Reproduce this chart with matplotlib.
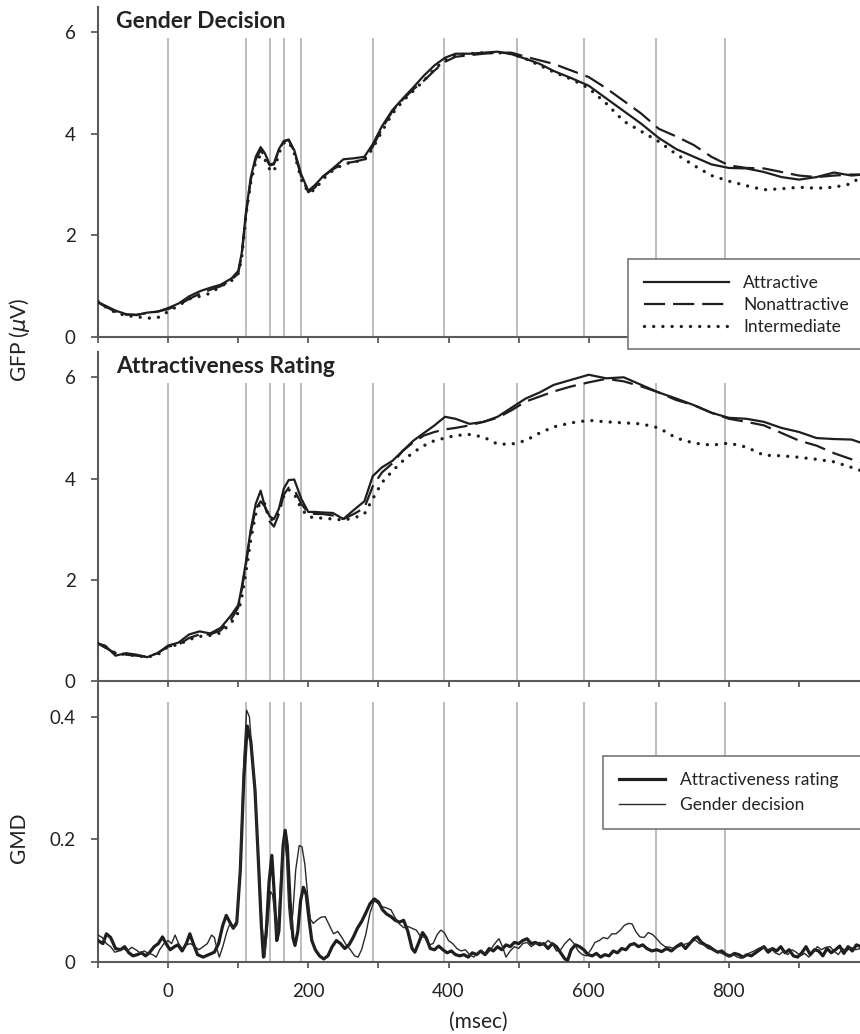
import matplotlib
matplotlib.use("Agg")
import matplotlib.pyplot as plt
from matplotlib.lines import Line2D
from matplotlib.patches import Rectangle
from matplotlib.ticker import MultipleLocator, FixedLocator, FuncFormatter

plt.rcParams['font.family'] = ['Lato', 'DejaVu Sans']
plt.rcParams['mathtext.fontset'] = 'dejavusans'

# ---------------- data ----------------
events = [0, 111, 145, 166, 190, 292, 394, 497, 593, 696, 794]

t = [-100, -90, -75, -60, -45, -30, -15, 0, 15, 30, 45, 60, 75, 90, 100, 105, 111, 118,
     125, 132, 138, 145, 151, 158, 165, 172, 180, 190, 200, 210, 220, 235, 250, 265, 280,
     292, 305, 320, 335, 350, 365, 380, 395, 410, 430, 450, 470, 490, 510, 530, 550, 575,
     600, 625, 650, 675, 700, 725, 750, 775, 800, 825, 850, 875, 900, 925, 950, 975, 990]

gd_attractive = [0.69, 0.62, 0.52, 0.45, 0.43, 0.48, 0.50, 0.57, 0.66, 0.80, 0.90, 0.97, 1.03,
                 1.15, 1.30, 1.65, 2.45, 3.15, 3.55, 3.74, 3.62, 3.40, 3.42, 3.70, 3.86, 3.89,
                 3.68, 3.20, 2.88, 3.00, 3.15, 3.32, 3.50, 3.52, 3.55, 3.80, 4.15, 4.47, 4.70,
                 4.92, 5.15, 5.35, 5.50, 5.58, 5.58, 5.60, 5.62, 5.57, 5.48, 5.38, 5.24, 5.10,
                 4.95, 4.70, 4.45, 4.20, 3.92, 3.70, 3.55, 3.40, 3.33, 3.32, 3.25, 3.15, 3.10,
                 3.15, 3.24, 3.18, 3.20]
gd_nonattractive = [0.68, 0.60, 0.50, 0.44, 0.44, 0.47, 0.50, 0.55, 0.63, 0.75, 0.85, 0.93, 1.00,
                    1.12, 1.25, 1.60, 2.40, 3.10, 3.50, 3.68, 3.55, 3.38, 3.40, 3.68, 3.85, 3.88,
                    3.65, 3.15, 2.85, 2.95, 3.15, 3.30, 3.42, 3.45, 3.50, 3.75, 4.10, 4.45, 4.68,
                    4.88, 5.05, 5.25, 5.42, 5.52, 5.55, 5.58, 5.60, 5.60, 5.52, 5.45, 5.38, 5.25,
                    5.12, 4.90, 4.65, 4.40, 4.10, 3.95, 3.78, 3.55, 3.38, 3.33, 3.32, 3.25, 3.18,
                    3.15, 3.18, 3.20, 3.20]
gd_intermediate = [0.70, 0.60, 0.48, 0.42, 0.40, 0.37, 0.38, 0.50, 0.62, 0.75, 0.80, 0.86, 1.00,
                   1.10, 1.25, 1.55, 2.40, 3.05, 3.45, 3.58, 3.50, 3.30, 3.25, 3.62, 3.82, 3.85,
                   3.62, 3.10, 2.85, 2.90, 3.10, 3.28, 3.40, 3.45, 3.48, 3.72, 4.05, 4.40, 4.65,
                   4.85, 5.05, 5.28, 5.45, 5.55, 5.58, 5.60, 5.60, 5.58, 5.48, 5.35, 5.22, 5.08,
                   4.90, 4.60, 4.25, 4.05, 3.85, 3.60, 3.38, 3.18, 3.07, 2.98, 2.90, 2.92, 2.95,
                   2.93, 2.95, 3.02, 3.18]

ar_attractive = [0.74, 0.70, 0.50, 0.55, 0.52, 0.47, 0.55, 0.70, 0.76, 0.92, 0.98, 0.94, 1.05,
                 1.30, 1.50, 1.85, 2.35, 3.00, 3.50, 3.76, 3.45, 3.25, 3.20, 3.40, 3.80, 3.97,
                 3.98, 3.60, 3.34, 3.34, 3.33, 3.32, 3.20, 3.38, 3.55, 4.05, 4.22, 4.35, 4.55,
                 4.75, 4.90, 5.05, 5.22, 5.18, 5.08, 5.12, 5.22, 5.40, 5.58, 5.70, 5.85, 5.95,
                 6.05, 5.98, 6.00, 5.85, 5.70, 5.58, 5.45, 5.30, 5.20, 5.18, 5.12, 5.00, 4.92,
                 4.80, 4.78, 4.77, 4.70]
ar_nonattractive = [0.74, 0.66, 0.55, 0.52, 0.50, 0.48, 0.55, 0.68, 0.72, 0.85, 0.92, 0.92, 1.00,
                    1.22, 1.45, 1.80, 2.30, 2.95, 3.40, 3.55, 3.45, 3.15, 3.05, 3.30, 3.68, 3.82,
                    3.78, 3.50, 3.32, 3.30, 3.30, 3.27, 3.20, 3.30, 3.42, 3.85, 4.12, 4.30, 4.55,
                    4.72, 4.85, 4.92, 4.97, 5.00, 5.05, 5.12, 5.20, 5.35, 5.52, 5.62, 5.72, 5.82,
                    5.90, 5.97, 5.92, 5.82, 5.70, 5.55, 5.45, 5.30, 5.18, 5.12, 5.05, 4.90, 4.75,
                    4.65, 4.50, 4.38, 4.32]
ar_intermediate = [0.74, 0.68, 0.55, 0.52, 0.50, 0.47, 0.52, 0.68, 0.72, 0.82, 0.88, 0.90, 0.95,
                   1.15, 1.35, 1.65, 2.15, 2.80, 3.30, 3.55, 3.50, 3.20, 3.18, 3.35, 3.65, 3.78,
                   3.70, 3.40, 3.25, 3.22, 3.22, 3.20, 3.18, 3.22, 3.30, 3.60, 3.92, 4.15, 4.35,
                   4.52, 4.65, 4.75, 4.80, 4.85, 4.87, 4.82, 4.68, 4.68, 4.75, 4.90, 5.02, 5.10,
                   5.15, 5.12, 5.10, 5.08, 5.00, 4.80, 4.70, 4.66, 4.70, 4.62, 4.46, 4.45, 4.42,
                   4.38, 4.33, 4.22, 4.15]

gmd_rating_t = [-100, -93, -88, -82, -75, -68, -62, -56, -50, -44, -38, -32, -26, -20, -14, -8, -3,
                3, 9, 14, 20, 26, 31, 36, 42, 50, 58, 66, 72, 78, 83, 88, 93, 98, 103, 108, 113,
                118, 124, 129, 133, 136, 140, 144, 148, 151, 155, 158, 161, 164, 167, 170, 174,
                178, 181, 185, 189, 193, 197, 201, 205, 210, 216, 222, 228, 234, 240, 246, 252,
                258, 264, 270, 276, 282, 288, 294, 300, 306, 312, 318, 324, 330, 336, 342, 348,
                352, 357, 363, 368, 374, 380, 386, 392, 398, 404, 410, 416, 422, 428, 434, 440,
                446, 452, 458, 464, 470, 476, 482, 488, 494, 500, 506, 512, 518, 524, 530, 536,
                542, 548, 554, 560, 566, 570, 575, 581, 587, 593, 599, 605, 611, 617, 623, 629,
                635, 641, 647, 653, 659, 665, 671, 677, 683, 690, 697, 704, 711, 718, 725, 732,
                738, 744, 750, 755, 760, 766, 772, 778, 784, 790, 796, 802, 808, 814, 820, 826,
                832, 838, 844, 850, 856, 862, 868, 874, 880, 886, 892, 898, 904, 910, 916, 922,
                928, 934, 940, 946, 952, 958, 964, 970, 976, 982, 988]
gmd_rating = [0.035, 0.030, 0.046, 0.040, 0.022, 0.020, 0.025, 0.015, 0.010, 0.012, 0.015, 0.010,
              0.016, 0.025, 0.030, 0.041, 0.030, 0.020, 0.025, 0.028, 0.018, 0.030, 0.046, 0.030,
              0.012, 0.008, 0.012, 0.016, 0.030, 0.060, 0.076, 0.065, 0.055, 0.065, 0.150, 0.300,
              0.385, 0.360, 0.280, 0.160, 0.060, 0.008, 0.050, 0.130, 0.174, 0.120, 0.035, 0.050,
              0.120, 0.190, 0.215, 0.190, 0.100, 0.040, 0.027, 0.050, 0.100, 0.122, 0.110, 0.070,
              0.035, 0.020, 0.010, 0.005, 0.010, 0.025, 0.035, 0.030, 0.022, 0.028, 0.040, 0.055,
              0.066, 0.080, 0.095, 0.103, 0.098, 0.085, 0.078, 0.074, 0.068, 0.065, 0.068, 0.050,
              0.022, 0.016, 0.030, 0.048, 0.040, 0.022, 0.020, 0.026, 0.020, 0.015, 0.018, 0.012,
              0.010, 0.012, 0.008, 0.015, 0.012, 0.018, 0.012, 0.022, 0.018, 0.025, 0.020, 0.028,
              0.025, 0.032, 0.030, 0.035, 0.038, 0.030, 0.032, 0.028, 0.030, 0.022, 0.030, 0.025,
              0.015, 0.005, 0.003, 0.020, 0.028, 0.025, 0.020, 0.012, 0.010, 0.014, 0.008, 0.012,
              0.010, 0.018, 0.015, 0.022, 0.020, 0.028, 0.030, 0.025, 0.028, 0.022, 0.018, 0.020,
              0.017, 0.022, 0.018, 0.025, 0.030, 0.022, 0.030, 0.038, 0.041, 0.033, 0.028, 0.025,
              0.020, 0.016, 0.018, 0.012, 0.010, 0.014, 0.012, 0.008, 0.012, 0.010, 0.015, 0.020,
              0.025, 0.016, 0.022, 0.018, 0.025, 0.015, 0.020, 0.010, 0.008, 0.015, 0.025, 0.012,
              0.020, 0.018, 0.010, 0.022, 0.015, 0.020, 0.026, 0.014, 0.025, 0.018, 0.028, 0.025]

gmd_gender_t = [-100, -94, -88, -82, -76, -70, -64, -58, -52, -46, -40, -34, -28, -22, -17, -12, -6,
                0, 5, 10, 15, 20, 26, 32, 38, 44, 50, 56, 62, 66, 70, 73, 78, 84, 88, 93, 98, 103,
                108, 112, 116, 120, 124, 129, 134, 138, 142, 146, 149, 152, 155, 158, 162, 166,
                169, 172, 175, 178, 182, 187, 191, 195, 199, 203, 207, 212, 218, 224, 230, 236,
                242, 248, 254, 260, 266, 271, 276, 282, 288, 294, 300, 306, 312, 318, 324, 330,
                336, 342, 348, 354, 360, 366, 372, 378, 384, 389, 394, 400, 406, 412, 418, 424,
                430, 436, 442, 448, 454, 460, 466, 472, 477, 482, 488, 494, 500, 506, 512, 518,
                524, 530, 536, 542, 548, 554, 560, 566, 573, 579, 585, 591, 597, 603, 609, 615,
                621, 627, 633, 639, 645, 651, 657, 662, 667, 673, 679, 685, 691, 697, 703, 709,
                716, 722, 728, 734, 740, 746, 752, 758, 764, 770, 776, 782, 788, 794, 800, 806,
                812, 818, 824, 830, 836, 842, 848, 854, 860, 866, 872, 878, 884, 890, 896, 902,
                908, 914, 920, 926, 932, 938, 944, 950, 956, 962, 968, 974, 980, 988]
gmd_gender = [0.044, 0.040, 0.030, 0.025, 0.016, 0.018, 0.022, 0.018, 0.024, 0.020, 0.015, 0.018,
              0.014, 0.012, 0.008, 0.020, 0.030, 0.035, 0.030, 0.044, 0.030, 0.022, 0.028, 0.030,
              0.025, 0.020, 0.025, 0.030, 0.044, 0.040, 0.020, 0.008, 0.025, 0.050, 0.062, 0.055,
              0.060, 0.160, 0.330, 0.411, 0.400, 0.340, 0.286, 0.170, 0.060, 0.008, 0.060, 0.115,
              0.110, 0.080, 0.046, 0.080, 0.160, 0.204, 0.170, 0.090, 0.054, 0.080, 0.150, 0.190,
              0.188, 0.160, 0.110, 0.070, 0.063, 0.068, 0.073, 0.074, 0.060, 0.046, 0.050, 0.040,
              0.028, 0.020, 0.010, 0.008, 0.020, 0.045, 0.080, 0.100, 0.095, 0.090, 0.088, 0.085,
              0.072, 0.062, 0.056, 0.058, 0.055, 0.052, 0.042, 0.040, 0.028, 0.030, 0.045, 0.052,
              0.048, 0.035, 0.030, 0.022, 0.018, 0.020, 0.012, 0.008, 0.015, 0.018, 0.012, 0.020,
              0.030, 0.038, 0.025, 0.008, 0.018, 0.025, 0.022, 0.030, 0.032, 0.025, 0.030, 0.032,
              0.028, 0.035, 0.030, 0.018, 0.020, 0.030, 0.038, 0.030, 0.018, 0.012, 0.010, 0.020,
              0.032, 0.035, 0.040, 0.038, 0.046, 0.046, 0.052, 0.060, 0.063, 0.062, 0.050, 0.041,
              0.040, 0.048, 0.045, 0.038, 0.030, 0.025, 0.024, 0.022, 0.025, 0.028, 0.030, 0.032,
              0.036, 0.030, 0.028, 0.022, 0.020, 0.018, 0.015, 0.012, 0.008, 0.012, 0.008, 0.006,
              0.012, 0.015, 0.018, 0.022, 0.025, 0.020, 0.022, 0.015, 0.012, 0.018, 0.012, 0.020,
              0.016, 0.010, 0.014, 0.008, 0.015, 0.025, 0.020, 0.024, 0.025, 0.018, 0.012, 0.022,
              0.018, 0.024, 0.020, 0.022]

gfp_labels = ["Attractive", "Nonattractive", "Intermediate"]
gmd_labels = ["Attractiveness rating", "Gender decision"]
panel_titles = ["Gender Decision", "Attractiveness Rating"]

# ---------------- styling ----------------
W, H = 860, 1034
fig = plt.figure(figsize=(W / 100, H / 100), dpi=100)

def fy(py):
    return 1 - py / H

LEFT = 98 / W
XLIM = (-100, 987)
spine_c = '#5a5a5a'
text_c = '#222222'
line_c = '#1e1e1e'
vline_c = '#b8b8b8'

axes_px = [(7, 337), (352, 681), (685, 962)]
axs = []
for top, bot in axes_px:
    ax = fig.add_axes([LEFT, fy(bot), 1 - LEFT, (bot - top) / H])
    ax.set_facecolor('none')
    for s in ['top', 'right']:
        ax.spines[s].set_visible(False)
    for s in ['left', 'bottom']:
        ax.spines[s].set_color(spine_c)
        ax.spines[s].set_linewidth(1.5)
    ax.set_xlim(*XLIM)
    ax.xaxis.set_major_locator(MultipleLocator(200))
    ax.xaxis.set_minor_locator(MultipleLocator(100))
    ax.tick_params(axis='x', which='both', direction='out', length=4, width=1.3,
                   color=spine_c, labelsize=13.5, labelcolor=text_c, pad=11)
    ax.tick_params(axis='y', which='both', direction='out', length=5, width=1.3,
                   color=spine_c, labelsize=13.5, labelcolor=text_c, pad=11)
    axs.append(ax)

dash_style = (0, (9.5, 3.6))
dot_style = (0, (0.01, 2.75))

gfp_series = [
    (gd_attractive, gd_nonattractive, gd_intermediate),
    (ar_attractive, ar_nonattractive, ar_intermediate),
]

for i, ax in enumerate(axs[:2]):
    ax.vlines(events, 0, 5.88, colors=vline_c, linewidth=1.3, zorder=1)
    a, n, m = gfp_series[i]
    ax.plot(t, a, color=line_c, lw=1.6, zorder=3)
    ax.plot(t, n, color=line_c, lw=1.6, linestyle=dash_style, zorder=3)
    ax.plot(t, m, color=line_c, lw=2.4, linestyle=dot_style, dash_capstyle='round', zorder=3)
    ax.set_ylim(0, 6.5)
    ax.yaxis.set_major_locator(FixedLocator([0, 2, 4, 6]))
    ax.tick_params(axis='x', labelbottom=False)
    ax.text(18 / 762, 0.936, panel_titles[i], transform=ax.transAxes, fontsize=16.5,
            fontweight='bold', color=text_c, va='baseline', ha='left')

ax = axs[2]
ax.vlines(events, 0, 0.424, colors=vline_c, linewidth=1.3, zorder=1)
ax.plot(gmd_rating_t, gmd_rating, color=line_c, lw=2.3, zorder=3)
ax.plot(gmd_gender_t, gmd_gender, color='#2a2a2a', lw=1.0, zorder=3)
ax.set_ylim(0, 0.452)
ax.yaxis.set_major_locator(FixedLocator([0, 0.2, 0.4]))
ax.yaxis.set_major_formatter(FuncFormatter(lambda v, p: '0' if v == 0 else f'{v:.1f}'))

# legend boxes: they run past the right edge of the figure, as in the reference
for (bx, btop, bbot) in [(628, 259, 349), (603, 756, 829)]:
    fig.add_artist(Rectangle((bx / W, fy(bbot)), 1.1 - bx / W, (bbot - btop) / H,
                             transform=fig.transFigure, facecolor='white',
                             edgecolor='#777777', linewidth=1.2, zorder=4))

h1 = [Line2D([], [], color=line_c, lw=1.6),
      Line2D([], [], color=line_c, lw=1.6, linestyle=dash_style),
      Line2D([], [], color=line_c, lw=2.4, linestyle=dot_style, dash_capstyle='round')]
leg1 = fig.legend(h1, gfp_labels, loc='upper left', bbox_to_anchor=(628 / W, fy(259)),
                  bbox_transform=fig.transFigure, borderaxespad=0, fontsize=12.5,
                  handlelength=4.85, handletextpad=0.85, labelspacing=0.33, borderpad=0.95,
                  frameon=False, labelcolor=text_c)
leg1.set_zorder(5)

h2 = [Line2D([], [], color=line_c, lw=2.3), Line2D([], [], color='#2a2a2a', lw=1.0)]
leg2 = fig.legend(h2, gmd_labels, loc='upper left', bbox_to_anchor=(603 / W, fy(756)),
                  bbox_transform=fig.transFigure, borderaxespad=0, fontsize=12.5,
                  handlelength=2.6, handletextpad=0.9, labelspacing=0.5, borderpad=0.95,
                  frameon=False, labelcolor=text_c)
leg2.set_zorder(5)

fig.text(19 / W, fy(340), r'GFP ($\mu$V)', rotation=90, ha='center', va='center',
         fontsize=15, color=text_c)
fig.text(19 / W, fy(838), 'GMD', rotation=90, ha='center', va='center',
         fontsize=15, color=text_c)
fig.text(478 / W, fy(1022), '(msec)', ha='center', va='center', fontsize=15, color=text_c)

fig.savefig('out.png', dpi=100)
